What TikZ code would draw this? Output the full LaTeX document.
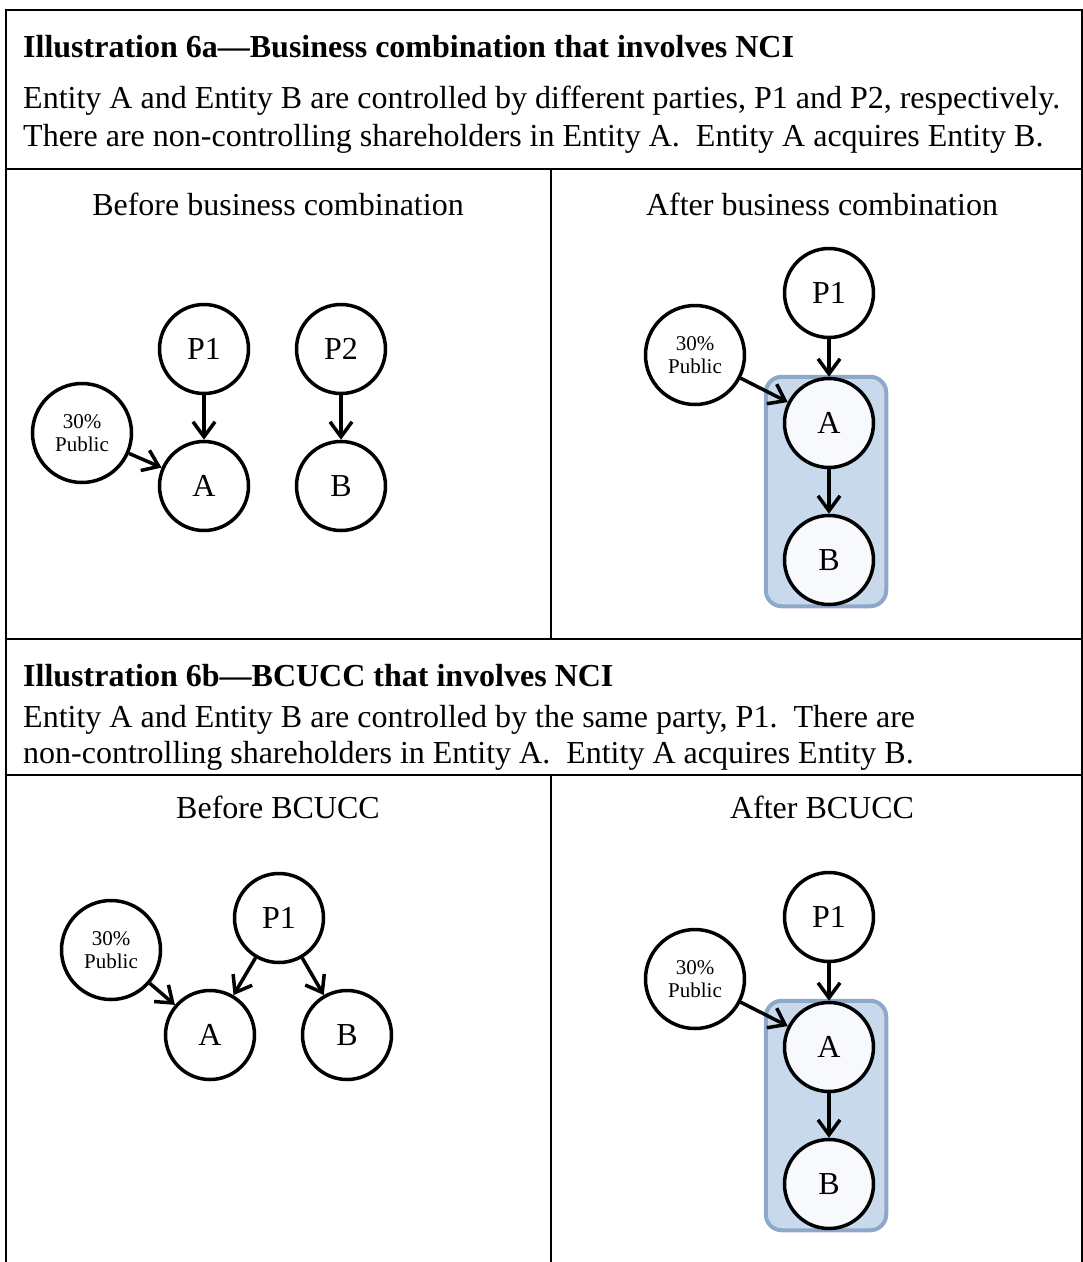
\documentclass[tikz,border=0pt]{standalone}
\usepackage{fontspec}
\setmainfont{Liberation Serif}
\usetikzlibrary{arrows.meta,fit,backgrounds}
\definecolor{boxfill}{HTML}{C9D9EC}
\definecolor{boxline}{HTML}{8DA8C8}
\definecolor{infill}{HTML}{F7F9FC}
\tikzset{
  frame/.style={line width=2pt},
  ent/.style={circle, draw, line width=3.5pt, minimum size=89pt, inner sep=0pt,
    font=\fontsize{32}{32}\selectfont, fill=white},
  pub/.style={circle, draw, line width=3.5pt, minimum size=99pt, inner sep=0pt,
    font=\fontsize{21}{23}\selectfont, align=center, fill=white},
  inbox/.style={fill=infill},
  arr/.style={line width=3.5pt, -{Straight Barb[length=15pt,width=22pt]}},
  grp/.style={draw=boxline, fill=boxfill, line width=4pt, rounded corners=16pt,
    inner xsep=14pt, inner ysep=0pt},
  ttl/.style={anchor=base west, font=\bfseries\fontsize{32}{37}\selectfont, inner sep=0pt},
  body/.style={anchor=base west, font=\fontsize{32}{37}\selectfont, inner sep=0pt},
  sub/.style={anchor=base, font=\fontsize{32}{37}\selectfont, inner sep=0pt},
}
\begin{document}
\begin{tikzpicture}[x=1pt,y=-1pt]
\useasboundingbox (0,0) rectangle (1083,1262);
% frame and table lines
\draw[frame] (6,1262) -- (6,10) -- (1082,10) -- (1082,1262);
\draw[frame] (6,169) -- (1082,169);
\draw[frame] (6,639) -- (1082,639);
\draw[frame] (6,775) -- (1082,775);
\draw[frame] (551,169) -- (551,639);
\draw[frame] (551,775) -- (551,1262);

% ---------- Illustration 6a ----------
\node[ttl] (t1) at (23,57) {Illustration 6a—Business combination that involves NCI};
\node[body] (b11) at (23,108) {Entity A and Entity B are controlled by different parties, P1 and P2, respectively.};
\node[body] (b12) at (23,146) {There are non-controlling shareholders in Entity A.\ \ Entity A acquires Entity B.};
\node[sub] (s1) at (278,215) {Before business combination};
\node[sub] (s2) at (822,215) {After business combination};

% before
\node[ent] (aP1) at (204,349) {P1};
\node[ent] (aP2) at (341,349) {P2};
\node[ent] (aA) at (204,486) {A};
\node[ent] (aB) at (341,486) {B};
\node[pub] (aPub) at (82,433) {30\%\\Public};
\draw[arr] (aP1) -- (aA);
\draw[arr] (aP2) -- (aB);
\draw[arr] (aPub) -- (aA);

% after
\node[ent] (cP1) at (829,293) {P1};
\node[pub] (cPub) at (695,355) {30\%\\Public};
\node[ent,inbox] (cA) at (829,423) {A};
\node[ent,inbox] (cB) at (829,560) {B};
\begin{scope}[on background layer]
\node[grp, fit=(cA)(cB), xshift=-3pt] (cBox) {};
\end{scope}
\draw[arr] (cP1) -- (cA);
\draw[arr] (cA) -- (cB);
\draw[arr] (cPub) -- (cA);

% ---------- Illustration 6b ----------
\node[ttl] (t2) at (23,686) {Illustration 6b—BCUCC that involves NCI};
\node[body] (b21) at (23,727) {Entity A and Entity B are controlled by the same party, P1.\ \ There are};
\node[body] (b22) at (23,763) {non-controlling shareholders in Entity A.\ \ Entity A acquires Entity B.};
\node[sub] (s3) at (278,818) {Before BCUCC};
\node[sub] (s4) at (822,818) {After BCUCC};

% before
\node[ent] (dP1) at (279,918) {P1};
\node[pub] (dPub) at (111,950) {30\%\\Public};
\node[ent] (dA) at (210,1035) {A};
\node[ent] (dB) at (347,1035) {B};
\draw[arr] (dP1) -- (dA);
\draw[arr] (dP1) -- (dB);
\draw[arr] (dPub) -- (dA);

% after
\node[ent] (eP1) at (829,917) {P1};
\node[pub] (ePub) at (695,979) {30\%\\Public};
\node[ent,inbox] (eA) at (829,1047) {A};
\node[ent,inbox] (eB) at (829,1184) {B};
\begin{scope}[on background layer]
\node[grp, fit=(eA)(eB), xshift=-3pt] (eBox) {};
\end{scope}
\draw[arr] (eP1) -- (eA);
\draw[arr] (eA) -- (eB);
\draw[arr] (ePub) -- (eA);
\end{tikzpicture}
\end{document}
